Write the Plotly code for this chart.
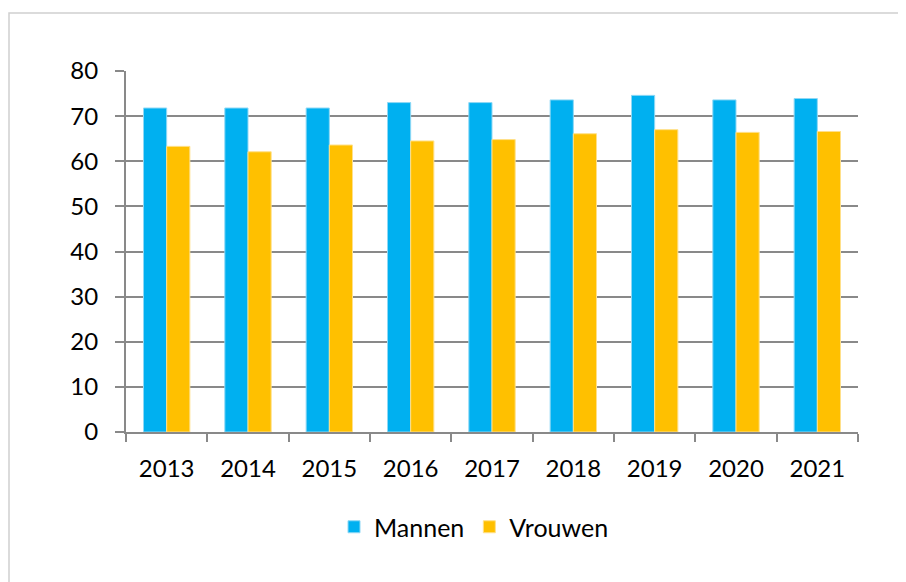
import plotly.graph_objects as go

years = ["2013", "2014", "2015", "2016", "2017", "2018", "2019", "2020", "2021"]
mannen = [71.8, 71.8, 71.8, 73.0, 73.0, 73.6, 74.6, 73.6, 73.9]
vrouwen = [63.3, 62.1, 63.6, 64.5, 64.8, 66.1, 67.0, 66.4, 66.6]

# page body has an 8px margin; compensate so screen positions match
OFF = 8
W, H = 906 - OFF, 582 - OFF
L, R, T = 126 - OFF, W - (858 - OFF), 71 - OFF
B = H - (432 - OFF)
pw, ph = W - L - R, H - T - B

def px(x):
    return (x - OFF - L) / pw

def py(y):
    return (H - B - (y - OFF)) / ph

fig = go.Figure()
fig.add_trace(go.Bar(x=years, y=mannen, name="Mannen",
                     marker=dict(color="#00B0F0", line=dict(color="#8FD8F5", width=1))))
fig.add_trace(go.Bar(x=years, y=vrouwen, name="Vrouwen",
                     marker=dict(color="#FFC000", line=dict(color="#FFE08A", width=1))))

font = "Lato, 'Open Sans', sans-serif"
fig.update_layout(
    width=W, height=H,
    margin=dict(l=L, r=R, t=T, b=B),
    paper_bgcolor="white", plot_bgcolor="white",
    barmode="group", bargap=0.43, bargroupgap=0,
    font=dict(family=font, size=24, color="#000000"),
    legend=dict(orientation="h", x=px(474), xanchor="center", y=py(527), yanchor="middle",
                font=dict(size=25), itemwidth=30, traceorder="normal"),
    xaxis=dict(showline=True, linecolor="#898989", linewidth=2,
               ticks="outside", tickson="boundaries", ticklen=8, tickcolor="#898989", tickwidth=2,
               tickfont=dict(size=24), showgrid=False, ticklabelstandoff=14),
    yaxis=dict(range=[0, 80], dtick=10, showline=True, linecolor="#898989", linewidth=2,
               ticks="outside", ticklen=9, tickcolor="#898989", tickwidth=2,
               showgrid=True, gridcolor="#898989", gridwidth=2,
               tickfont=dict(size=24), zeroline=False, ticklabelstandoff=12),
    shapes=[dict(type="rect", xref="paper", yref="paper",
                 x0=px(9), x1=px(930), y0=py(610), y1=py(13),
                 line=dict(color="#D0D0D0", width=1.5), fillcolor="rgba(0,0,0,0)", layer="below")],
)

fig.write_html("out.html")
